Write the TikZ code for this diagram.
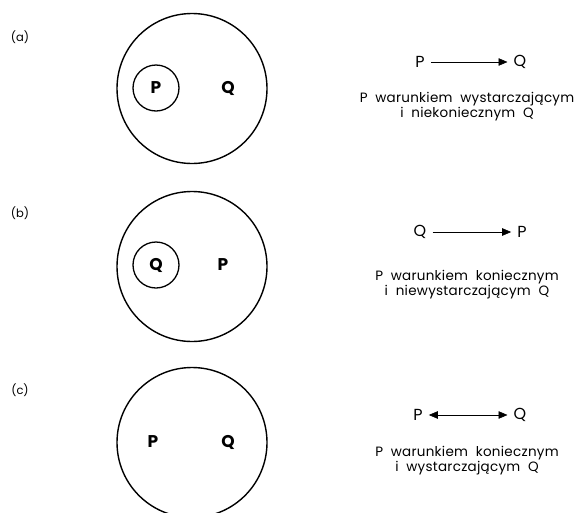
\documentclass[tikz,border=0pt]{standalone}
\usepackage{fontspec}
\setmainfont{Poppins}
\newfontfamily\widefont[LetterSpace=2,WordSpace=2]{Poppins}
\usetikzlibrary{arrows.meta}
\tikzset{
  bigc/.style={circle,draw,line width=1.4pt,minimum size=150pt,inner sep=0pt},
  smallc/.style={circle,draw,line width=1.3pt,minimum size=46pt,inner sep=0pt},
  inlet/.style={font=\fontsize{17}{17}\selectfont\bfseries,inner sep=1pt},
  rowlet/.style={font=\fontsize{16}{16}\selectfont,inner sep=3pt},
  tag/.style={font=\fontsize{11.5}{12}\selectfont,inner sep=0pt},
  desc/.style={font=\widefont\fontsize{13.5}{15}\selectfont,align=center,inner sep=0pt},
  impl/.style={line width=0.6pt,-{Triangle[length=9pt,width=7.5pt]},shorten <=3pt,shorten >=3pt},
  eqv/.style={line width=0.6pt,{Triangle[length=9pt,width=7.5pt]}-{Triangle[length=9pt,width=7.5pt]},shorten <=3pt,shorten >=3pt}
}
\begin{document}
\begin{tikzpicture}[x=1pt,y=-1pt]
\useasboundingbox (0,0) rectangle (576,512);
% (a)
\node[tag] (la) at (20,37) {(a)};
\node[bigc] (ca) at (192,88.5) {};
\node[smallc] (sa) at (156,88) {};
\node[inlet] (pa) at (156,88) {P};
\node[inlet] (qa) at (228,88) {Q};
\node[rowlet] (ap) at (420,62) {P};
\node[rowlet] (aq) at (520,62) {Q};
\draw[impl] (ap) -- (aq);
\node[desc] (da) at (467,107) {P warunkiem wystarczającym\\i niekoniecznym Q};
% (b)
\node[tag] (lb) at (20,213) {(b)};
\node[bigc] (cb) at (192,266.5) {};
\node[smallc] (sb) at (156,265) {};
\node[inlet] (qb) at (156,265) {Q};
\node[inlet] (pb) at (223,265) {P};
\node[rowlet] (bq) at (420,232) {Q};
\node[rowlet] (bp) at (522,232) {P};
\draw[impl] (bq) -- (bp);
\node[desc] (db) at (467,285) {P warunkiem koniecznym\\i niewystarczającym Q};
% (c)
\node[tag] (lc) at (20,390) {(c)};
\node[bigc] (cc) at (192,442.5) {};
\node[inlet] (pc) at (153,442) {P};
\node[inlet] (qc) at (228,442) {Q};
\node[rowlet] (cp) at (418,415) {P};
\node[rowlet] (cq) at (520,415) {Q};
\draw[eqv] (cp) -- (cq);
\node[desc] (dc) at (467,461) {P warunkiem koniecznym\\i wystarczającym Q};
\end{tikzpicture}
\end{document}
